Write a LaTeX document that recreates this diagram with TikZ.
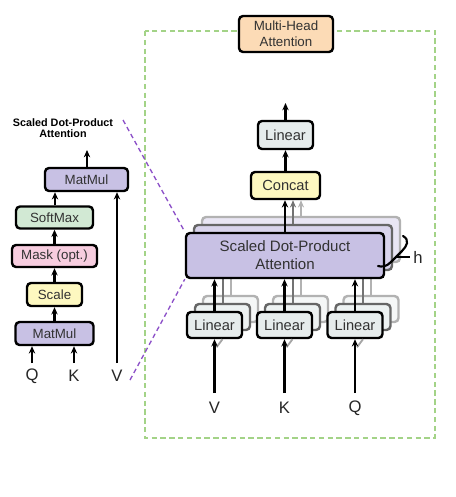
\documentclass[tikz,border=0pt]{standalone}
\usepackage{fontspec}
\setmainfont{Liberation Sans}
\usetikzlibrary{arrows.meta}
\definecolor{purp}{RGB}{200,193,228}
\definecolor{softg}{RGB}{210,233,212}
\definecolor{maskp}{RGB}{247,205,223}
\definecolor{scaley}{RGB}{253,248,192}
\definecolor{lingray}{RGB}{230,236,236}
\definecolor{peach}{RGB}{252,219,182}
\definecolor{dgreen}{RGB}{163,211,135}
\definecolor{dpurple}{RGB}{140,80,200}
\definecolor{txt}{RGB}{50,50,50}
\tikzset{
  box/.style={draw=black, line width=1.8pt, rounded corners=3pt, inner sep=0pt,
    text=txt, align=center},
  wh/.style 2 args={minimum width=#1*0.75pt, minimum height=#2*0.75pt},
  fsmall/.style={font=\fontsize{10}{12}\selectfont},
  fmid/.style={font=\fontsize{11}{13.5}\selectfont},
  arr/.style={line width=1.7pt, -{Stealth[length=5.5pt,width=4.8pt]}},
  garr/.style={line width=1.5pt, -{Stealth[length=5.5pt,width=4.6pt]}},
  lbl/.style={font=\fontsize{12.5}{14}\selectfont, inner sep=0pt, text=black!85},
  ghostA/.style={draw=black!60, fill=#1!70},
  ghostB/.style={draw=black!30, fill=#1!40},
}
\begin{document}
\begin{tikzpicture}[x=0.75pt,y=-0.75pt]
\useasboundingbox (0,0) rectangle (455,497);

% ---------- left: scaled dot-product attention ----------
\node[font=\bfseries\fontsize{8.1}{8.3}\selectfont, align=center, inner sep=0pt] (title) at (63,128.5) {Scaled Dot-Product\\Attention};
\node[box, fsmall, fill=purp, wh={83}{23}] (mm2) at (86.5,179.5) {MatMul};
\node[box, fsmall, fill=softg, wh={77}{22}] (sm) at (54.5,217.5) {SoftMax};
\node[box, fsmall, fill=maskp, wh={85}{22}] (mask) at (54.5,256) {Mask (opt.)};
\node[box, fsmall, fill=scaley, wh={55}{23}] (scale) at (54.5,294.5) {Scale};
\node[box, fsmall, fill=purp, wh={78}{23}] (mm1) at (54.5,333.5) {MatMul};

\coordinate (qin) at (32,363);
\coordinate (kin) at (74,363);
\coordinate (vin) at (117,363);
\coordinate (sdout) at (87,150);
\node[lbl] (Q1) at (32,376) {Q};
\node[lbl] (K1) at (74,376) {K};
\node[lbl] (V1) at (117,376) {V};

\draw[arr] (qin) -- (qin |- mm1.south);
\draw[arr] (kin) -- (kin |- mm1.south);
\draw[arr] (vin) -- (vin |- mm2.south);
\draw[arr] (mm1) -- (scale);
\draw[arr] (scale) -- (mask);
\draw[arr] (mask) -- (sm);
\draw[arr] (sm.north -| 55,0) -- (mm2.south -| 55,0);
\draw[arr] (mm2.north -| sdout) -- (sdout);

% ---------- right: multi-head attention ----------
\draw[dgreen, line width=1.2pt, dash pattern=on 4pt off 2.6pt] (145,31) rectangle (435,438);
\node[box, fill=peach, wh={94}{36}, font=\fontsize{10}{12}\selectfont] (mha) at (286,34) {Multi-Head\\Attention};

\node[box, fmid, fill=lingray, wh={55}{28}] (lin) at (285.5,135) {Linear};
\node[box, fmid, fill=scaley, wh={69}{27}] (concat) at (285.5,185.5) {Concat};
\coordinate (mhout) at (285.5,103);
\draw[arr] (lin) -- (mhout);
\draw[arr] (concat) -- (lin);

% back copies of linear layers
\foreach \n/\x in {1/214.5,2/284.5,3/355}{
  \node[box, ghostB=lingray, wh={55}{26}] (l\n c) at (\x+16,325-16) {};
  \node[box, ghostA=lingray, wh={55}{26}] (l\n b) at (\x+8,325-8) {};
}
% back copies of attention
\node[box, ghostB=purp, wh={198}{45}] (sdc) at (285+16,255.5-16) {};
\node[box, ghostA=purp, wh={198}{45}] (sdb) at (285+8,255.5-8) {};

% gray lines from back linears
\foreach \n in {1,2,3}{
  \draw[black!55, line width=1.5pt] (l\n b.north) -- (l\n b.north |- 0,278);
  \draw[black!30, line width=1.5pt] (l\n c.north) -- (l\n c.north |- 0,278);
}
% gray arrows from back attention to concat
\draw[garr, black!55] (sdb.north -| 293,0) -- (concat.south -| 293,0);
\draw[garr, black!30] (sdc.north -| 301,0) -- (concat.south -| 301,0);

\node[box, fill=purp, wh={198}{45}, font=\fontsize{11.3}{13.5}\selectfont] (sdpa) at (285,255.5) {Scaled Dot-Product\\Attention};

\node[box, fmid, fill=lingray, wh={55}{26}] (l1) at (214.5,325) {Linear};
\node[box, fmid, fill=lingray, wh={55}{26}] (l2) at (284.5,325) {Linear};
\node[box, fmid, fill=lingray, wh={55}{26}] (l3) at (355,325) {Linear};

\draw[arr] (sdpa.north -| 285,0) -- (concat.south -| 285,0);
\draw[arr] (l1) -- (l1 |- sdpa.south);
\draw[arr] (l2) -- (l2 |- sdpa.south);
\draw[arr] (l3) -- (l3 |- sdpa.south);

% inputs
\coordinate (vi) at (214.5,393);
\coordinate (ki) at (284.5,393);
\coordinate (qi) at (355,393);
\foreach \c in {vi,ki,qi}{
  \draw[black!35, line width=1.4pt] ([xshift=1.5pt,yshift=-6pt]\c |- l1.south) -- ([xshift=6pt]\c |- l1.south);
}
\draw[arr] (vi) -- (vi |- l1.south);
\draw[arr] (ki) -- (ki |- l2.south);
\draw[arr] (qi) -- (qi |- l3.south);
\node[lbl] (V2) at (214.5,408) {V};
\node[lbl] (K2) at (284.5,408) {K};
\node[lbl] (Q2) at (355,408) {Q};

% h brace
\draw[line width=1.6pt, line cap=round] (403,236) .. controls (410,240) and (407,246) .. (402,251) -- (391,262) .. controls (386,267) and (382,267) .. (378,266);
\draw[line width=1.2pt] (397,257) -- (410,257);
\node[lbl] (h) at (418,257) {h};

% zoom lines
\coordinate (z1) at (123,120);
\coordinate (z2) at (130,380);
\draw[dpurple, line width=1pt, dash pattern=on 3.5pt off 2.5pt] (z1) -- (sdpa.north west);
\draw[dpurple, line width=1pt, dash pattern=on 3.5pt off 2.5pt] (z2) -- (sdpa.south west);
\end{tikzpicture}
\end{document}
